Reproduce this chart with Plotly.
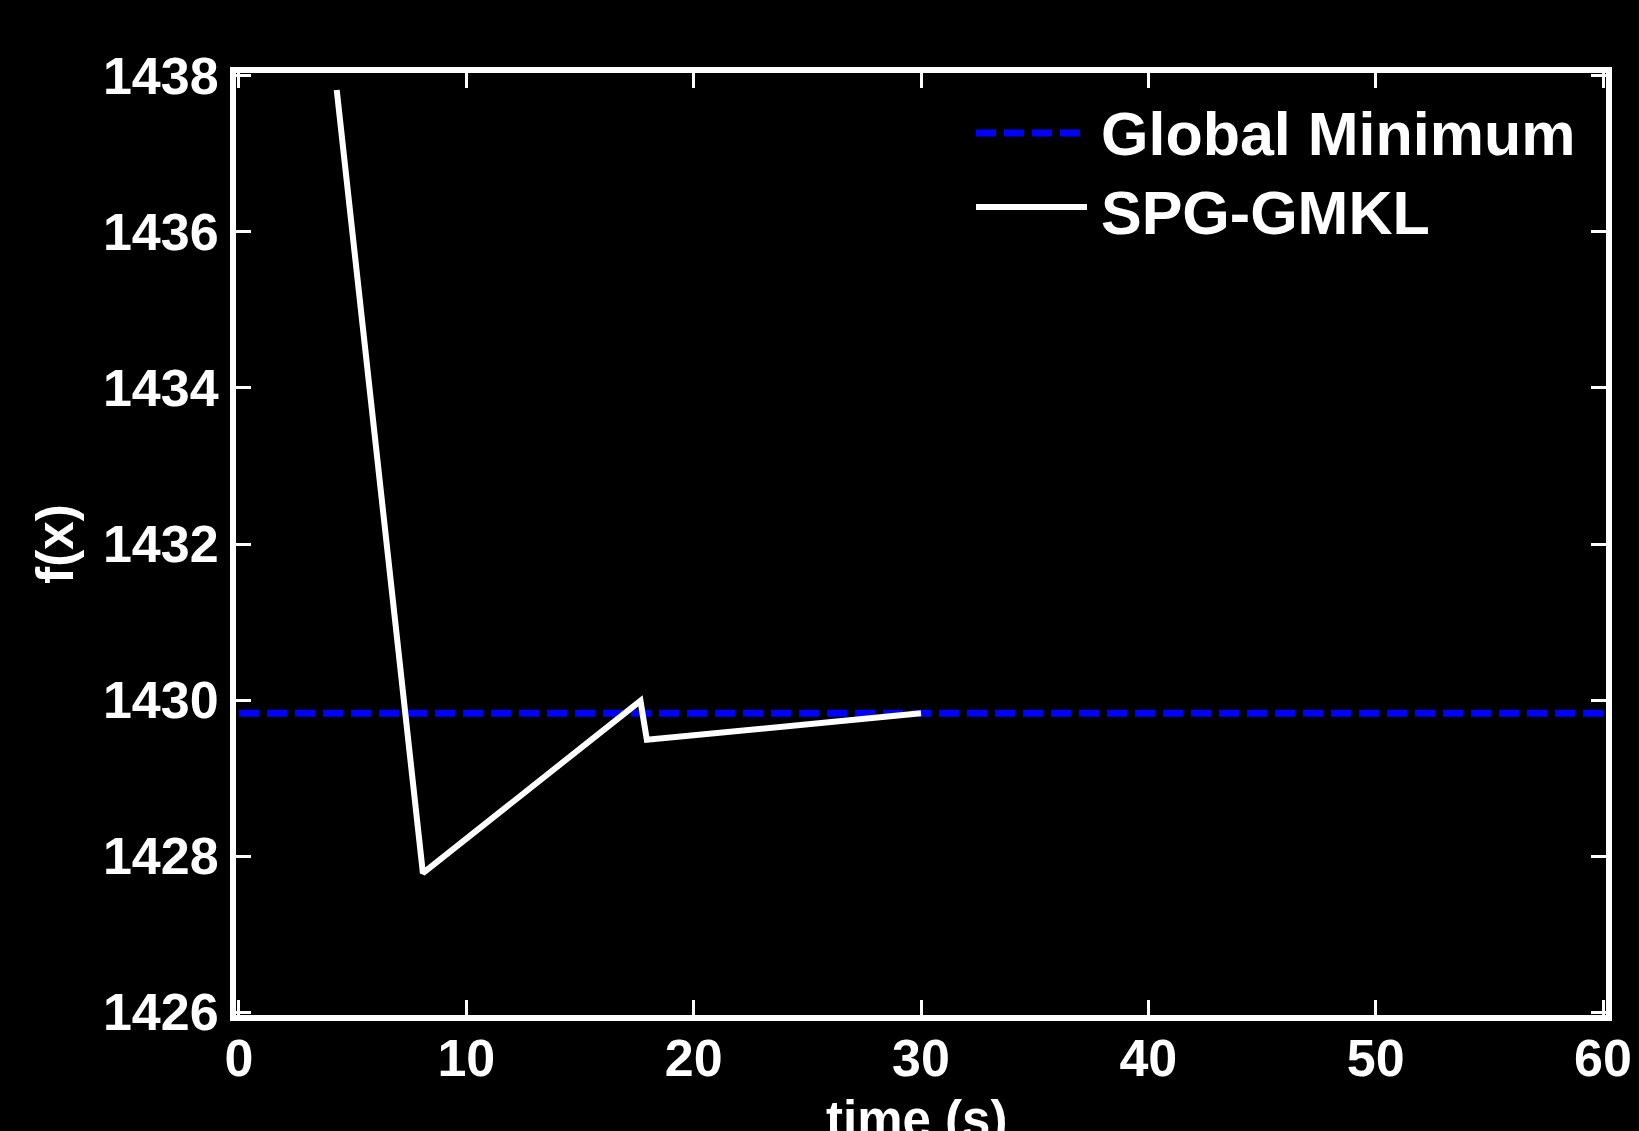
import plotly.graph_objects as go

# Data
time_s = [4.3, 8.09, 17.66, 17.94, 30.0]
fx_spg = [1437.82, 1427.78, 1429.99, 1429.49, 1429.83]
global_min = 1429.83
global_x = [0, 60]
x_ticks = [0, 10, 20, 30, 40, 50, 60]
y_ticks = [1426, 1428, 1430, 1432, 1434, 1436, 1438]

FONT = "Liberation Sans, Arial, sans-serif"

fig = go.Figure()
fig.add_trace(go.Scatter(
    x=global_x, y=[global_min] * len(global_x), mode="lines",
    name="Global Minimum",
    line=dict(color="#0000FF", width=7, dash="20px,8px"),
))
fig.add_trace(go.Scatter(
    x=time_s, y=fx_spg, mode="lines", name="SPG-GMKL",
    line=dict(color="white", width=6),
))

# plot area: 236..1606 x, 73..1015 y ; axis lines 3px outside
ppx = (1609 - 233) / 60.0
ppy = (1018.5 - 70) / 12.0
xr = [0 - 3 / ppx, 60 + 3 / ppx]
yr = [1426 - 3 / ppy, 1438 + 3 / ppy]

axis_common = dict(
    showgrid=False, zeroline=False, showline=True, linecolor="white",
    linewidth=6, mirror="ticks", ticks="inside", ticklen=15, tickwidth=3,
    tickcolor="white", automargin=False,
    tickfont=dict(family=FONT, size=52, color="white", weight="bold"),
)

fig.update_layout(
    width=1639, height=1131,
    paper_bgcolor="black", plot_bgcolor="black",
    margin=dict(l=236, r=33, t=73, b=116, autoexpand=False),
    showlegend=False,
    xaxis=dict(range=xr, tickvals=x_ticks, ticktext=[str(v) for v in x_ticks],
               ticklabelstandoff=-7, **axis_common),
    yaxis=dict(range=yr, tickvals=y_ticks, ticktext=[str(v) for v in y_ticks],
               ticklabelstandoff=1,
               title=dict(text="f(x)", standoff=15,
                          font=dict(family=FONT, size=51, color="white", weight="bold")),
               **axis_common),
)

def px_to_paper_x(px):
    return (px - 236) / 1370.0

def px_to_paper_y(py):
    return 1 - (py - 73) / 942.0

# x-axis title, placed low (partly below the page edge, as in the reference)
fig.add_annotation(xref="paper", yref="paper", x=px_to_paper_x(916.5),
                   y=px_to_paper_y(1089), text="time (s)", showarrow=False,
                   xanchor="center", yanchor="top",
                   font=dict(family=FONT, size=51, color="white", weight="bold"))

# Legend drawn manually to match the reference's long line samples
legend_items = [("Global Minimum", dict(color="#0000FF", width=7, dash="20px,8px"), 133, 134),
                ("SPG-GMKL", dict(color="white", width=6), 207, 213)]
for label, ln, ypx, typx in legend_items:
    yp = px_to_paper_y(ypx)
    fig.add_shape(type="line", xref="paper", yref="paper",
                  x0=px_to_paper_x(976), x1=px_to_paper_x(1087), y0=yp, y1=yp,
                  line=ln)
    fig.add_annotation(xref="paper", yref="paper", x=px_to_paper_x(1099),
                       y=px_to_paper_y(typx),
                       text=label, showarrow=False, xanchor="left", yanchor="middle",
                       font=dict(family=FONT, size=61, color="white", weight="bold"))

fig.write_html(
    "out.html",
    config={"displayModeBar": False},
    post_script="document.body.style.margin='0';document.body.style.background='black';"
                "document.body.style.overflow='hidden';",
)
